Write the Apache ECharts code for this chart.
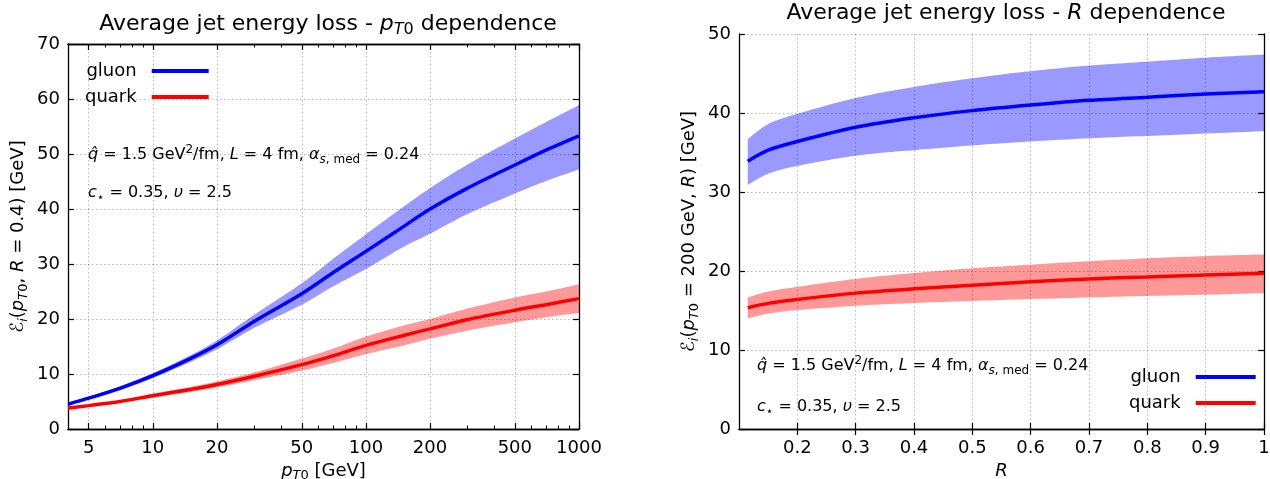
<!DOCTYPE html>
<html><head><meta charset="utf-8">
<script src="https://cdn.jsdelivr.net/npm/echarts@6/dist/echarts.min.js"></script>
<style>html,body{margin:0;padding:0;background:#fff}#c{width:1270px;height:479px}</style>
</head><body><div id="c"></div>
<script>
// ---------- data: left panel (pT0 dependence, R = 0.4) ----------
const pT = [4, 5, 7, 10, 15, 20, 30, 50, 70, 100, 150, 200, 300, 500, 700, 1000];
const gluonPt   = [4.5, 5.6, 7.4, 9.7, 12.8, 15.3, 19.6, 24.6, 28.4, 32.3, 36.8, 40.0, 43.8, 48.0, 50.7, 53.3];
const gluonPtUp = [4.7, 5.85, 7.75, 10.15, 13.4, 16.1, 20.8, 26.5, 30.9, 35.4, 40.4, 43.8, 48.1, 52.8, 55.8, 58.9];
const gluonPtLo = [4.3, 5.35, 7.05, 9.25, 12.2, 14.5, 18.4, 22.6, 25.9, 29.1, 33.1, 35.5, 39.1, 42.8, 45.1, 47.2];
const quarkPt   = [3.8, 4.25, 5.0, 6.05, 7.2, 8.1, 9.6, 11.7, 13.3, 15.2, 17.0, 18.2, 19.9, 21.6, 22.6, 23.7];
const quarkPtUp = [3.9, 4.4, 5.2, 6.4, 7.65, 8.65, 10.3, 12.8, 14.6, 16.8, 18.8, 20.0, 21.9, 23.9, 25.0, 26.3];
const quarkPtLo = [3.7, 4.1, 4.8, 5.7, 6.75, 7.55, 8.9, 10.6, 12.0, 13.6, 15.2, 16.4, 17.9, 19.4, 20.3, 21.1];
const pTMajorTicks = [5, 10, 20, 50, 100, 200, 500, 1000];
const pTMinorTicks = [6, 7, 8, 9, 30, 40, 60, 70, 80, 90, 300, 400, 600, 700, 800, 900];

// ---------- data: right panel (R dependence, pT0 = 200 GeV) ----------
const Rv = [0.115, 0.15, 0.2, 0.3, 0.4, 0.5, 0.6, 0.7, 0.8, 0.9, 1.0];
const gluonR   = [33.9, 35.3, 36.4, 38.2, 39.4, 40.3, 41.0, 41.6, 42.0, 42.4, 42.7];
const gluonRUp = [36.7, 38.6, 39.9, 41.9, 43.3, 44.4, 45.3, 46.0, 46.5, 47.0, 47.4];
const gluonRLo = [30.9, 32.3, 33.3, 34.6, 35.3, 35.9, 36.4, 36.8, 37.1, 37.4, 37.7];
const quarkR   = [15.35, 15.9, 16.4, 17.2, 17.75, 18.2, 18.65, 19.0, 19.25, 19.5, 19.7];
const quarkRUp = [16.65, 17.4, 18.0, 19.0, 19.75, 20.35, 20.8, 21.25, 21.6, 21.9, 22.1];
const quarkRLo = [14.0, 14.6, 15.05, 15.6, 15.95, 16.2, 16.45, 16.65, 16.85, 17.0, 17.2];
const RTicks = [0.2, 0.3, 0.4, 0.5, 0.6, 0.7, 0.8, 0.9, 1.0];

const F = 'DejaVu Sans';
const BLUE = '#0000ff', RED = '#ff0000', BLUE_BAND = '#9999ff', RED_BAND = '#ff9999';
const GRIDC = 'rgba(0,0,0,0.28)';

function rich(sz) {
  const sub = Math.round(sz * 0.72);
  const base = {fontFamily: F, color: '#000', fontWeight: 'normal'};
  return {
    n:   Object.assign({fontSize: sz}, base),
    i:   Object.assign({fontSize: sz, fontStyle: 'italic'}, base),
    s:   Object.assign({fontSize: sub, padding: [Math.round(sz * 0.55), 0, 0, 0]}, base),
    si:  Object.assign({fontSize: sub, fontStyle: 'italic', padding: [Math.round(sz * 0.55), 0, 0, 0]}, base),
    sup: Object.assign({fontSize: sub, padding: [0, 0, Math.round(sz * 0.6), 0]}, base)
  };
}
const axLine = {show: true, lineStyle: {color: '#000', width: 1.3}};
function tickAxis(extra) {
  return Object.assign({
    axisLine: axLine,
    axisTick: {show: true, inside: true, length: 6, lineStyle: {color: '#000', width: 1.2}},
    axisLabel: {show: false},
    splitLine: {show: false},
    z: 4
  }, extra);
}
const lblStyle = {fontFamily: F, fontSize: 18, color: '#000'};
const splitStyle = {show: true, lineStyle: {color: GRIDC, type: [1.5, 2.5], width: 1}};

// smooth (Catmull-Rom) sampling of pixel points for the band outline
function smoothPts(p) {
  const out = [];
  const N = 10;
  for (let k = 0; k < p.length - 1; k++) {
    const p0 = p[k - 1] || p[k], p1 = p[k], p2 = p[k + 1], p3 = p[k + 2] || p[k + 1];
    const c1 = [p1[0] + (p2[0] - p0[0]) / 6, p1[1] + (p2[1] - p0[1]) / 6];
    const c2 = [p2[0] - (p3[0] - p1[0]) / 6, p2[1] - (p3[1] - p1[1]) / 6];
    for (let j = 0; j < N; j++) {
      const t = j / N, u = 1 - t;
      out.push([
        u * u * u * p1[0] + 3 * u * u * t * c1[0] + 3 * u * t * t * c2[0] + t * t * t * p2[0],
        u * u * u * p1[1] + 3 * u * u * t * c1[1] + 3 * u * t * t * c2[1] + t * t * t * p2[1]
      ]);
    }
  }
  out.push(p[p.length - 1]);
  return out;
}
function band(name, xs, lo, up, color, xi, yi) {
  return {
    type: 'custom', name: name, xAxisIndex: xi, yAxisIndex: yi, silent: true, z: 1, clip: true,
    data: xs.map((x, k) => [x, lo[k], up[k]]),
    encode: {x: 0, y: [1, 2]},
    renderItem: function (params, api) {
      if (params.dataIndex !== 0) return null;
      const U = xs.map((x, k) => api.coord([x, up[k]]));
      const L = xs.map((x, k) => api.coord([x, lo[k]]));
      const pts = smoothPts(U).concat(smoothPts(L).reverse());
      return {type: 'polygon', shape: {points: pts}, style: {fill: color}};
    }
  };
}
function line(name, xs, ys, color, xi, yi) {
  return {
    type: 'line', name: name, xAxisIndex: xi, yAxisIndex: yi, z: 5,
    data: xs.map((x, k) => [x, ys[k]]),
    smooth: 0.3, symbol: 'none', showSymbol: false,
    lineStyle: {color: color, width: 3.5}, itemStyle: {color: color}
  };
}

const R18 = rich(18), R16 = rich(16), R22 = rich(22);

const option = {
  animation: false,
  backgroundColor: '#fff',
  grid: [
    {left: 68, top: 44, width: 511, height: 385, outerBoundsMode: 'none', containLabel: false},
    {left: 739, top: 34, width: 525, height: 395, outerBoundsMode: 'none', containLabel: false}
  ],
  title: [
    {text: '{n|Average jet energy loss - }{i|p}{si|T}{s|0}{n| dependence}', left: 323, top: 5, textAlign: 'center',
     textStyle: {fontWeight: 'normal', rich: R22}},
    {text: '{n|Average jet energy loss - }{i|R}{n| dependence}', left: 1001, top: -3, textAlign: 'center',
     textStyle: {fontWeight: 'normal', rich: R22}}
  ],
  legend: [
    {data: ['gluon', 'quark'], orient: 'vertical', left: 80, top: 57, align: 'right', icon: 'rect',
     itemWidth: 57, itemHeight: 4, itemGap: 8, selectedMode: false,
     textStyle: {fontFamily: F, fontSize: 18, color: '#000', padding: [0, 10, 0, 0]}},
    {data: ['gluon', 'quark'], orient: 'vertical', left: 1124, top: 363, align: 'right', icon: 'rect',
     itemWidth: 60, itemHeight: 4, itemGap: 8, selectedMode: false,
     textStyle: {fontFamily: F, fontSize: 18, color: '#000', padding: [0, 10, 0, 0]}}
  ],
  xAxis: [
    {gridIndex: 0, type: 'log', logBase: 10, min: 4, max: 1000, position: 'bottom', z: 4,
     axisLine: axLine,
     axisTick: {show: true, inside: true, length: 6, customValues: pTMajorTicks, lineStyle: {color: '#000', width: 1.2}},
     axisLabel: Object.assign({customValues: pTMajorTicks, margin: 10, formatter: v => String(Math.round(v))}, lblStyle),
     splitLine: splitStyle,
     name: '{i|p}{si|T}{s|0}{n| [GeV]}', nameLocation: 'middle', nameGap: 30, nameTextStyle: {rich: R18}},
    tickAxis({gridIndex: 0, type: 'log', logBase: 10, min: 4, max: 1000, position: 'bottom',
     axisTick: {show: true, inside: true, length: 3.5, customValues: pTMinorTicks, lineStyle: {color: '#000', width: 1}}}),
    tickAxis({gridIndex: 0, type: 'log', logBase: 10, min: 4, max: 1000, position: 'top',
     axisTick: {show: true, inside: true, length: 6, customValues: pTMajorTicks, lineStyle: {color: '#000', width: 1.2}}}),
    tickAxis({gridIndex: 0, type: 'log', logBase: 10, min: 4, max: 1000, position: 'top',
     axisTick: {show: true, inside: true, length: 3.5, customValues: pTMinorTicks, lineStyle: {color: '#000', width: 1}}}),
    {gridIndex: 1, type: 'value', min: 0.1, max: 1.0, position: 'bottom', z: 4,
     axisLine: axLine,
     axisTick: {show: true, inside: true, length: 6, customValues: RTicks, lineStyle: {color: '#000', width: 1.2}},
     axisLabel: Object.assign({customValues: RTicks, margin: 10, formatter: v => (Math.abs(v - 1) < 1e-9 ? '1' : v.toFixed(1))}, lblStyle),
     splitLine: splitStyle,
     name: '{i|R}', nameLocation: 'middle', nameGap: 30, nameTextStyle: {rich: R18}},
    tickAxis({gridIndex: 1, type: 'value', min: 0.1, max: 1.0, position: 'top',
     axisTick: {show: true, inside: true, length: 6, customValues: RTicks, lineStyle: {color: '#000', width: 1.2}}})
  ],
  yAxis: [
    {gridIndex: 0, type: 'value', min: 0, max: 70, interval: 10, position: 'left', z: 4,
     axisLine: axLine,
     axisTick: {show: true, inside: true, length: 6, lineStyle: {color: '#000', width: 1.2}},
     axisLabel: Object.assign({margin: 8}, lblStyle),
     splitLine: splitStyle,
     name: '{n|ℰ}{si|i}{n|(}{i|p}{si|T}{s|0}{n|, }{i|R}{n| = 0.4) [GeV]}', nameLocation: 'middle', nameGap: 38,
     nameTextStyle: {rich: R18}},
    tickAxis({gridIndex: 0, type: 'value', min: 0, max: 70, interval: 10, position: 'right'}),
    {gridIndex: 1, type: 'value', min: 0, max: 50, interval: 10, position: 'left', z: 4,
     axisLine: axLine,
     axisTick: {show: true, inside: true, length: 6, lineStyle: {color: '#000', width: 1.2}},
     axisLabel: Object.assign({margin: 8}, lblStyle),
     splitLine: splitStyle,
     name: '{n|ℰ}{si|i}{n|(}{i|p}{si|T}{s|0}{n| = 200 GeV, }{i|R}{n|) [GeV]}', nameLocation: 'middle', nameGap: 38,
     nameTextStyle: {rich: R18}},
    tickAxis({gridIndex: 1, type: 'value', min: 0, max: 50, interval: 10, position: 'right'})
  ],
  graphic: [
    {type: 'text', left: 88, top: 144, z: 10, style: {text: '{i|q\u0302}{n| = 1.5 GeV}{sup|2}{n|/fm, }{i|L}{n| = 4 fm, }{i|α}{si|s}{s|, med}{n| = 0.24}', rich: R16}},
    {type: 'text', left: 88, top: 185, z: 10, style: {text: '{i|c}{s|⋆}{n| = 0.35, }{i|υ}{n| = 2.5}', rich: R16}},
    {type: 'text', left: 757, top: 355, z: 10, style: {text: '{i|q\u0302}{n| = 1.5 GeV}{sup|2}{n|/fm, }{i|L}{n| = 4 fm, }{i|α}{si|s}{s|, med}{n| = 0.24}', rich: R16}},
    {type: 'text', left: 757, top: 399, z: 10, style: {text: '{i|c}{s|⋆}{n| = 0.35, }{i|υ}{n| = 2.5}', rich: R16}}
  ],
  series: [
    band('gluon band', pT, gluonPtLo, gluonPtUp, BLUE_BAND, 0, 0),
    band('quark band', pT, quarkPtLo, quarkPtUp, RED_BAND, 0, 0),
    line('gluon', pT, gluonPt, BLUE, 0, 0),
    line('quark', pT, quarkPt, RED, 0, 0),
    band('gluon band R', Rv, gluonRLo, gluonRUp, BLUE_BAND, 4, 2),
    band('quark band R', Rv, quarkRLo, quarkRUp, RED_BAND, 4, 2),
    line('gluon', Rv, gluonR, BLUE, 4, 2),
    line('quark', Rv, quarkR, RED, 4, 2)
  ]
};
const chart = echarts.init(document.getElementById('c'), null, {renderer: 'canvas'});
chart.setOption(option);
</script>
</body></html>
